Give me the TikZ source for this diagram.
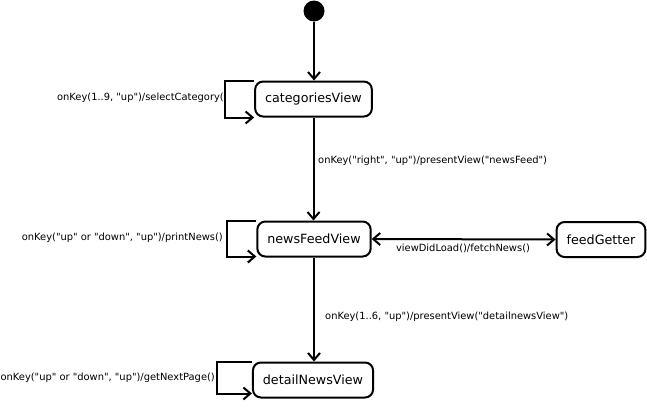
\documentclass[tikz,border=0pt]{standalone}
\usepackage{fontspec}
\newfontfamily\djfont{DejaVu Sans}
\usetikzlibrary{arrows.meta}
\begin{document}
\begin{tikzpicture}[x=1pt,y=-1pt,
  state/.style={draw, line width=2pt, rounded corners=8pt, minimum height=35pt, inner xsep=10pt, font=\djfont\fontsize{12.7}{14}\selectfont},
  lbl/.style={font=\djfont\fontsize{9.9}{11}\selectfont, inner sep=0pt},
  arr/.style={line width=2pt, -{Straight Barb[length=7pt,width=12pt]}},
  darr/.style={line width=2pt, {Straight Barb[length=7pt,width=12pt]}-{Straight Barb[length=7pt,width=12pt]}}]
\useasboundingbox (0,0) rectangle (647,407);
\node[circle, fill, minimum size=21pt, inner sep=0pt] (init) at (314,11) {};
\node[state] (cat) at (313.5,99) {categoriesView};
\node[state] (nf) at (314,239) {newsFeedView};
\node[state] (det) at (313,380) {detailNewsView};
\node[state] (fg) at (601,239.5) {feedGetter};
% loops
\coordinate (cl) at (225,0);
\coordinate (nl) at (227,0);
\coordinate (dl) at (217,0);
\draw[arr, rounded corners=0pt] (cat.north west) -- (cl |- cat.north) -- (cl |- cat.south) -- (cat.south west);
\draw[arr, rounded corners=0pt] (nf.north west) -- (nl |- nf.north) -- ([yshift=1pt]nl |- nf.south) -- ([yshift=1pt]nf.south west);
\draw[arr, rounded corners=0pt] (det.north west) -- (dl |- det.north) -- ([yshift=5pt]dl |- det.south) -- ([yshift=5pt]det.south west);
\node[lbl, anchor=east] (lc) at (224,98) {onKey(1..9, "up")/selectCategory(};
\node[lbl, anchor=east] (ln) at (223,238) {onKey("up" or "down", "up")/printNews()};
\node[lbl, anchor=east] (ld) at (215,378) {onKey("up" or "down", "up")/getNextPage()};
% transitions
\draw[arr] (init) -- (init |- cat.north);
\draw[arr] (cat.south) -- (cat.south |- nf.north);
\draw[arr] (nf.south) -- (nf.south |- det.north);
\draw[darr] (nf.east) -- (fg.west);
\node[lbl, anchor=west] (l1) at (318,161) {onKey("right", "up")/presentView("newsFeed")};
\node[lbl, anchor=west] (l2) at (325,317) {onKey(1..6, "up")/presentView("detailnewsView")};
\node[lbl] (l3) at (463,248) {viewDidLoad()/fetchNews()};
\end{tikzpicture}
\end{document}
